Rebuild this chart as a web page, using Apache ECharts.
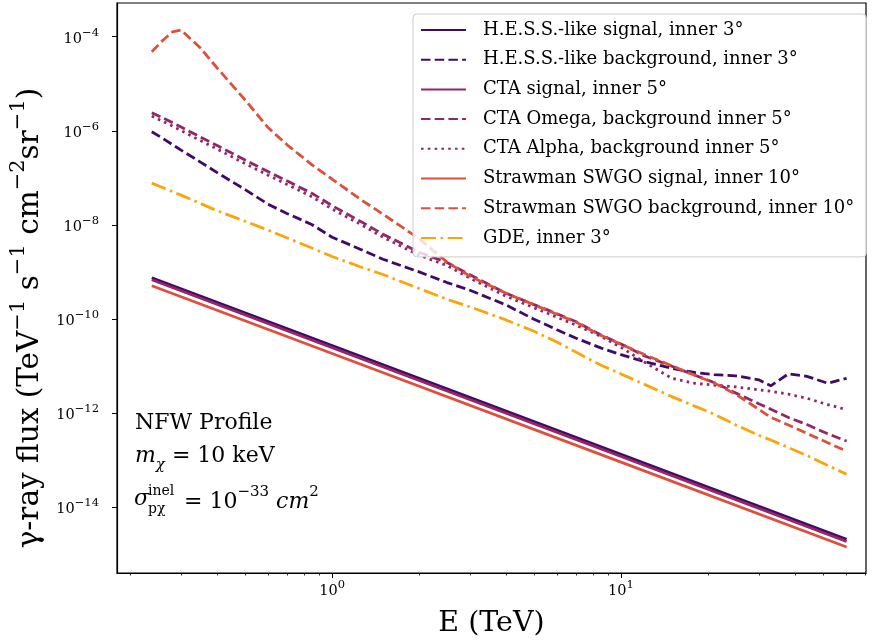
<!DOCTYPE html>
<html><head><meta charset="utf-8">
<script src="https://cdn.jsdelivr.net/npm/echarts@6/dist/echarts.min.js"></script>
<style>html,body{margin:0;padding:0;background:#fff}#c{width:872px;height:644px}</style>
</head><body><div id="c"></div>
<script>
// ---- data (E in TeV, flux in TeV^-1 s^-1 cm^-2 sr^-1) ----
const energies = [0.2375, 0.26, 0.28, 0.3, 0.35, 0.4, 0.5, 0.6, 0.7, 0.85, 1, 1.25, 1.5, 2, 2.5, 3, 4, 5, 6, 7, 8.5, 10, 12, 15, 18, 21, 25, 30, 33, 38, 44, 52, 60.4];
const hessBackground = [9.53e-7, 6.82e-7, 5.08e-7, 3.88e-7, 2.16e-7, 1.29e-7, 5.61e-8, 2.75e-8, 1.73e-8, 1.02e-8, 5.47e-9, 3.04e-9, 1.86e-9, 1.00e-9, 5.94e-10, 4.08e-10, 1.98e-10, 9.86e-11, 5.89e-11, 3.88e-11, 2.43e-11, 1.74e-11, 1.25e-11, 8.93e-12, 7.28e-12, 6.53e-12, 6.18e-12, 5.08e-12, 3.79e-12, 6.82e-12, 6.04e-12, 4.29e-12, 5.47e-12];
const ctaOmegaBackground = [2.42e-6, 1.86e-6, 1.49e-6, 1.20e-6, 7.35e-7, 4.84e-7, 2.38e-7, 1.36e-7, 8.51e-8, 4.72e-8, 2.56e-8, 1.20e-8, 6.34e-9, 2.62e-9, 1.59e-9, 8.67e-10, 3.52e-10, 2.02e-10, 1.29e-10, 8.71e-11, 4.61e-11, 2.94e-11, 1.66e-11, 9.86e-12, 6.37e-12, 4.46e-12, 2.65e-12, 1.58e-12, 1.21e-12, 8.05e-13, 5.69e-13, 3.61e-13, 2.54e-13];
const ctaAlphaBackground = [2.06e-6, 1.57e-6, 1.26e-6, 1.01e-6, 6.18e-7, 4.08e-7, 2.00e-7, 1.14e-7, 7.16e-8, 3.98e-8, 2.16e-8, 1.04e-8, 5.47e-9, 2.26e-9, 1.36e-9, 7.35e-10, 3.04e-10, 1.73e-10, 1.09e-10, 7.35e-11, 4.29e-11, 2.50e-11, 1.23e-11, 5.47e-12, 4.29e-12, 3.93e-12, 3.59e-12, 3.12e-12, 2.90e-12, 2.52e-12, 2.06e-12, 1.51e-12, 1.18e-12];
const swgoBackground = [4.80e-5, 8.51e-5, 1.26e-4, 1.39e-4, 5.75e-5, 2.16e-5, 4.50e-6, 1.17e-6, 4.97e-7, 1.91e-7, 9.38e-8, 3.52e-8, 1.69e-8, 5.08e-9, 1.61e-9, 8.11e-10, 3.52e-10, 2.00e-10, 1.26e-10, 8.51e-11, 4.50e-11, 2.90e-11, 1.77e-11, 1.01e-11, 6.34e-12, 4.37e-12, 2.50e-12, 1.20e-12, 8.11e-13, 5.56e-13, 3.70e-13, 2.33e-13, 1.55e-13];
const gdeFlux = [7.71e-8, 6.15e-8, 5.08e-8, 4.29e-8, 2.85e-8, 2.00e-8, 1.19e-8, 7.74e-9, 5.26e-9, 3.21e-9, 2.13e-9, 1.29e-9, 8.81e-10, 4.44e-10, 2.62e-10, 1.81e-10, 9.53e-11, 5.47e-11, 3.23e-11, 1.95e-11, 1.05e-11, 6.79e-12, 4.12e-12, 2.23e-12, 1.40e-12, 9.48e-13, 5.56e-13, 3.37e-13, 2.67e-13, 1.85e-13, 1.25e-13, 7.67e-14, 5.01e-14];

const signalEnergies = [0.2375, 1, 10, 60.4];
const hessSignal = [7.53e-10, 2.72e-11, 1.33e-13, 2.08e-15];
const ctaSignal = [6.82e-10, 2.45e-11, 1.19e-13, 1.86e-15];
const swgoSignal = [5.08e-10, 1.84e-11, 9.04e-14, 1.42e-15];

const seriesNames = [
  'H.E.S.S.-like signal, inner 3°',
  'H.E.S.S.-like background, inner 3°',
  'CTA signal, inner 5°',
  'CTA Omega, background inner 5°',
  'CTA Alpha, background inner 5°',
  'Strawman SWGO signal, inner 10°',
  'Strawman SWGO background, inner 10°',
  'GDE, inner 3°'
];

const xMajorTicks = [1, 10];
const xMinorTicks = [0.2, 0.3, 0.4, 0.5, 0.6, 0.7, 0.8, 0.9, 2, 3, 4, 5, 6, 7, 8, 9, 20, 30, 40, 50, 60, 70];
const yMajorTicks = [1e-14, 1e-12, 1e-10, 1e-8, 1e-6, 1e-4];
const xRange = [0.18, 70.5];
const yRange = [3.98e-16, 5.2e-4];

// ---- rendering ----
const FONT = 'DejaVu Serif';
const C_HESS = '#420a68', C_CTA = '#932667', C_SWGO = '#dd513a', C_GDE = '#fca50a';
const lg = Math.log10;
const pairs = (xs, ys) => xs.map((x, i) => [lg(x), lg(ys[i])]);
const expLabel = v => { const e = Math.round(v); return '{b|10}{s|' + (e < 0 ? '\u2212' + (-e) : e) + '}'; };
const tickRich = {
  b: { fontFamily: FONT, fontSize: 14.5, lineHeight: 20, verticalAlign: 'bottom', color: '#000' },
  s: { fontFamily: FONT, fontSize: 11.5, lineHeight: 12, verticalAlign: 'top', color: '#000' }
};

function line(name, xs, ys, color, type, z) {
  return {
    name, type: 'line', data: pairs(xs, ys), symbol: 'none', smooth: false, z,
    lineStyle: { color, width: 2.8, type, cap: 'butt' }, itemStyle: { color, opacity: 0 },
    emphasis: { disabled: true }, animation: false
  };
}
const DASH = [9.5, 4.2], DOT = [2.6, 4.2], DASHDOT = [15, 4.5, 2.6, 4.5];

const chart = echarts.init(document.getElementById('c'), null, { renderer: 'canvas' });
chart.setOption({
  animation: false,
  backgroundColor: '#fff',
  grid: { left: 117, right: 6, top: 3, bottom: 71, outerBoundsMode: 'none', containLabel: false, show: true, borderColor: '#000', borderWidth: 1.2, backgroundColor: 'transparent' },
  xAxis: [
    {
      type: 'value', position: 'bottom', min: lg(xRange[0]), max: lg(xRange[1]),
      axisLine: { show: true, onZero: false, lineStyle: { color: '#000', width: 1.2 } },
      axisTick: { show: true, customValues: xMajorTicks.map(lg), length: 5, lineStyle: { color: '#000', width: 1 } },
      axisLabel: { customValues: xMajorTicks.map(lg), formatter: expLabel, rich: tickRich, margin: 6 },
      splitLine: { show: false },
      name: 'E (TeV)', nameLocation: 'middle', nameGap: 36,
      nameTextStyle: { fontFamily: FONT, fontSize: 28.5, color: '#000' }
    },
    {
      type: 'value', position: 'bottom', min: lg(xRange[0]), max: lg(xRange[1]),
      axisLine: { show: false, onZero: false },
      axisTick: { show: true, customValues: xMinorTicks.map(lg), length: 2.5, lineStyle: { color: '#000', width: 0.8 } },
      axisLabel: { show: false }, splitLine: { show: false }
    }
  ],
  yAxis: {
    type: 'value', min: lg(yRange[0]), max: lg(yRange[1]),
    axisLine: { show: true, onZero: false, lineStyle: { color: '#000', width: 1.2 } },
    axisTick: { show: true, customValues: yMajorTicks.map(lg), length: 5, lineStyle: { color: '#000', width: 1 } },
    axisLabel: { customValues: yMajorTicks.map(lg), formatter: expLabel, rich: tickRich, margin: 18 },
    splitLine: { show: false },
    name: '{n|\u03b3-ray flux (TeV}{s|\u22121}{n| s}{s|\u22121}{n| cm}{s|\u22122}{n|sr}{s|\u22121}{n|)}',
    nameLocation: 'middle', nameGap: 70, nameRotate: 90,
    nameTextStyle: {
      padding: [0, 60, 0, 0],
      rich: {
        n: { fontFamily: FONT, fontSize: 29.5, lineHeight: 37, verticalAlign: 'bottom', color: '#000' },
        s: { fontFamily: FONT, fontSize: 21, lineHeight: 20, verticalAlign: 'top', color: '#000' }
      }
    }
  },
  legend: {
    orient: 'vertical', left: 413, top: 14,
    data: seriesNames,
    itemWidth: 45, itemHeight: 14, itemGap: 11.7,
    itemStyle: { opacity: 0 },
    backgroundColor: 'rgba(255,255,255,0.8)', borderColor: '#cccccc', borderWidth: 1, borderRadius: 4,
    padding: [7, 12, 10, 7],
    textStyle: { fontFamily: FONT, fontSize: 18, lineHeight: 18, color: '#000', padding: [0, 0, 0, 12] },
    selectedMode: false, z: 10
  },
  series: [
    line(seriesNames[0], signalEnergies, hessSignal, C_HESS, 'solid', 2),
    line(seriesNames[1], energies, hessBackground, C_HESS, DASH, 2),
    line(seriesNames[2], signalEnergies, ctaSignal, C_CTA, 'solid', 2),
    line(seriesNames[3], energies, ctaOmegaBackground, C_CTA, DASH, 2),
    line(seriesNames[4], energies, ctaAlphaBackground, C_CTA, DOT, 2),
    line(seriesNames[5], signalEnergies, swgoSignal, C_SWGO, 'solid', 2),
    line(seriesNames[6], energies, swgoBackground, C_SWGO, DASH, 2),
    line(seriesNames[7], energies, gdeFlux, C_GDE, DASHDOT, 2)
  ],
  graphic: [
    { type: 'text', x: 135, y: 423, style: { text: 'NFW Profile', fontFamily: FONT, fontSize: 22, fill: '#000', verticalAlign: 'middle' } },
    { type: 'text', x: 135, y: 459, style: {
        text: '{i|m}{sub|\u03c7}{n| = 10 keV}', verticalAlign: 'middle',
        rich: {
          i: { fontFamily: FONT, fontStyle: 'italic', fontSize: 22, lineHeight: 27, verticalAlign: 'top', fill: '#000' },
          sub: { fontFamily: FONT, fontStyle: 'italic', fontSize: 15, lineHeight: 18, verticalAlign: 'bottom', fill: '#000' },
          n: { fontFamily: FONT, fontSize: 22, lineHeight: 27, verticalAlign: 'top', fill: '#000' }
        } } },
    { type: 'text', x: 134, y: 499, style: { text: '\u03c3', fontFamily: FONT, fontStyle: 'italic', fontSize: 22, fill: '#000', verticalAlign: 'middle' } },
    { type: 'text', x: 148, y: 491, style: { text: 'inel', fontFamily: FONT, fontSize: 14, fill: '#000', verticalAlign: 'middle' } },
    { type: 'text', x: 148, y: 509, style: { text: 'p\u03c7', fontFamily: FONT, fontSize: 14, fill: '#000', verticalAlign: 'middle' } },
    { type: 'text', x: 184, y: 499, style: {
        text: '{n|= 10}{s|\u221233}{i| cm}{s|2}', verticalAlign: 'middle',
        rich: {
          n: { fontFamily: FONT, fontSize: 22, lineHeight: 29, verticalAlign: 'bottom', fill: '#000' },
          i: { fontFamily: FONT, fontStyle: 'italic', fontSize: 22, lineHeight: 29, verticalAlign: 'bottom', fill: '#000' },
          s: { fontFamily: FONT, fontSize: 15, lineHeight: 16, verticalAlign: 'top', fill: '#000' }
        } } }
  ]
});
</script>
</body></html>
